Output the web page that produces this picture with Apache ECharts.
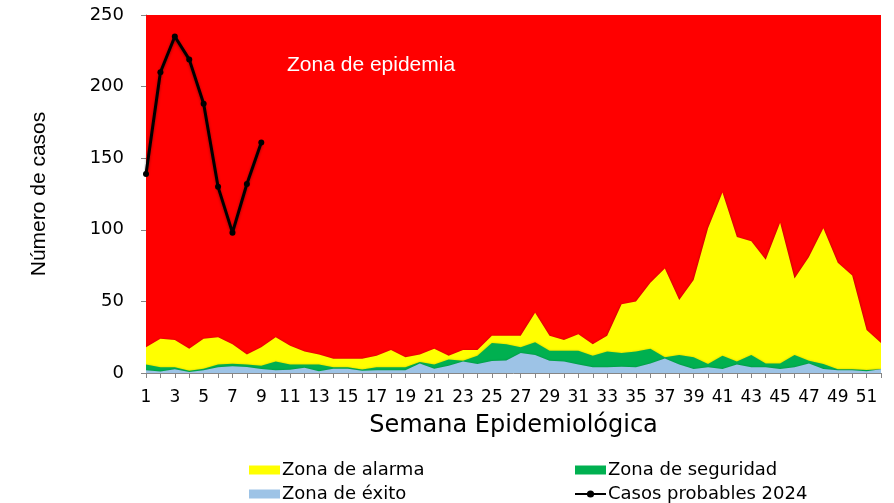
<!DOCTYPE html>
<html>
<head>
<meta charset="utf-8">
<script src="https://cdn.jsdelivr.net/npm/echarts@6/dist/echarts.min.js"></script>
<style>
  html, body { margin: 0; padding: 0; background: #fff; }
  #chart { width: 894px; height: 503px; }
</style>
</head>
<body>
<div id="chart"></div>
<script>
// semanas epidemiológicas 1..52
const semanas = [];
for (let i = 1; i <= 52; i++) semanas.push(String(i));

// límite superior de cada zona
const zonaEpidemia = [
  250, 250, 250, 250, 250, 250, 250, 250, 250, 250, 250, 250, 250,
  250, 250, 250, 250, 250, 250, 250, 250, 250, 250, 250, 250, 250,
  250, 250, 250, 250, 250, 250, 250, 250, 250, 250, 250, 250, 250,
  250, 250, 250, 250, 250, 250, 250, 250, 250, 250, 250, 250, 250
];
const zonaAlarma = [
  18, 24, 23, 17, 24, 25, 20, 13, 18, 25, 19, 15, 13,
  10, 10, 10, 12, 16, 11, 13, 17, 12, 16, 16, 26, 26,
  26, 42, 26, 23, 27, 20, 26, 48, 50, 63, 73, 51, 65,
  101, 126, 95, 92, 79, 105, 66, 81, 101, 77, 68, 30, 21
];
const zonaSeguridad = [
  6, 4, 4, 1.5, 3, 6, 6.5, 6, 5, 8, 6, 6, 6,
  4, 4, 2.5, 4, 4, 4, 7.7, 6, 9.5, 8.6, 12, 21, 20,
  18, 21.5, 15.5, 15.5, 15.5, 12, 15, 14, 15, 17, 11, 12.6, 11,
  6.3, 12, 8, 12.6, 6.7, 6.7, 12.6, 8.6, 6.3, 2.6, 2.6, 2.1, 2.6
];
const zonaExito = [
  2, 1, 2.6, 0.7, 2, 4, 4.7, 4.2, 2.8, 2, 2.3, 3.7, 1.2,
  3, 3, 1.6, 2, 2, 2, 6.7, 3, 5, 8, 6.3, 8.4, 8.7,
  14, 12.6, 8.6, 8, 6, 4, 4, 4.4, 4, 6.7, 10.2, 6, 2.8,
  4, 2.8, 6, 4, 4, 2.8, 4, 6.7, 2.8, 2, 2, 1.2, 2.6
];
const casos2024 = [139, 210, 235, 219, 188, 130, 98, 132, 161];

const myChart = echarts.init(document.getElementById('chart'));

const areaSerie = (name, data, color) => ({
  name: name,
  type: 'line',
  data: data,
  symbol: 'none',
  lineStyle: { width: 0 },
  itemStyle: { color: color },
  areaStyle: {
    color: color,
    opacity: 1,
    shadowColor: 'rgba(0,0,0,0.45)',
    shadowBlur: 3,
    shadowOffsetY: 1
  }
});

const legendBase = {
  orient: 'vertical',
  top: 456,
  height: 47,
  itemWidth: 31,
  itemHeight: 9,
  itemGap: 6,
  textStyle: { fontSize: 18, color: '#000', padding: [0, 0, 0, -3] }
};

const option = {
  animation: false,
  textStyle: { fontFamily: 'DejaVu Sans' },
  grid: { left: 146, right: 13, top: 15, bottom: 130, containLabel: false },
  xAxis: {
    type: 'category',
    data: semanas,
    boundaryGap: false,
    name: 'Semana Epidemiológica',
    nameLocation: 'middle',
    nameGap: 41,
    nameTextStyle: { fontSize: 24, color: '#000', fontFamily: 'DejaVu Sans' },
    axisLine: { lineStyle: { color: '#868686' } },
    axisTick: { show: true, interval: 0, length: 5, lineStyle: { color: '#868686' } },
    axisLabel: { interval: 1, fontSize: 17, color: '#000', margin: 16 },
    splitLine: { show: false }
  },
  yAxis: {
    type: 'value',
    min: 0,
    max: 250,
    interval: 50,
    name: 'Número de casos',
    nameLocation: 'middle',
    nameGap: 96,
    nameRotate: 90,
    nameTextStyle: { fontSize: 21, color: '#000', fontFamily: 'Liberation Sans' },
    axisLine: { show: true, lineStyle: { color: '#868686' } },
    axisTick: { show: true, length: 5, lineStyle: { color: '#868686' } },
    axisLabel: { fontSize: 18, color: '#000', margin: 22 },
    splitLine: { show: false }
  },
  legend: [
    Object.assign({}, legendBase, {
      left: 244,
      data: [
        { name: 'Zona de alarma', icon: 'rect' },
        { name: 'Zona de éxito', icon: 'rect' }
      ]
    }),
    Object.assign({}, legendBase, {
      left: 569,
      data: [
        { name: 'Zona de seguridad', icon: 'rect' },
        { name: 'Casos probables 2024' }
      ]
    })
  ],
  graphic: [
    {
      type: 'text',
      left: 287,
      top: 55,
      z: 100,
      style: { text: 'Zona de epidemia', fill: '#fff', fontSize: 21, fontFamily: 'Liberation Sans' }
    }
  ],
  series: [
    areaSerie('Zona de epidemia', zonaEpidemia, '#FF0000'),
    areaSerie('Zona de alarma', zonaAlarma, '#FFFF00'),
    areaSerie('Zona de seguridad', zonaSeguridad, '#00B050'),
    areaSerie('Zona de éxito', zonaExito, '#9DC3E6'),
    {
      name: 'Casos probables 2024',
      type: 'line',
      data: casos2024,
      symbol: 'circle',
      symbolSize: 6,
      itemStyle: { color: '#000' },
      lineStyle: { color: '#000', width: 3, shadowColor: 'rgba(0,0,0,0.4)', shadowBlur: 3, shadowOffsetY: 1 },
      z: 5
    }
  ]
};

option && myChart.setOption(option);
</script>
</body>
</html>
